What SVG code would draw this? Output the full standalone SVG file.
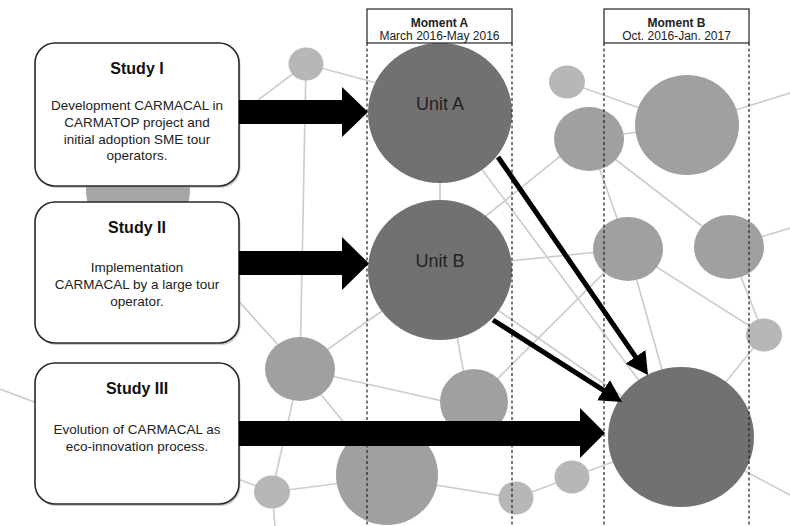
<svg xmlns="http://www.w3.org/2000/svg" width="790" height="526" viewBox="0 0 790 526">
<style>
.edge{stroke:#cdcdcd;stroke-width:1.7;fill:none}
.dark{fill:#717171}
.mid{fill:#a0a0a0}
.light{fill:#b7b7b7}
.dash{stroke:#222;stroke-width:1.2;stroke-dasharray:3,2.5;fill:none}
.box{fill:#fff;stroke:#2a2a2a;stroke-width:1.6}
.shadow{fill:#9a9a9a;opacity:0.5}
.hdr{fill:#fff;stroke:#222;stroke-width:1.2}
.title{font-family:"Liberation Sans",Arial,sans-serif;font-weight:bold;font-size:16px;fill:#111;text-anchor:middle}
.body{font-family:"Liberation Sans",Arial,sans-serif;font-size:13.5px;fill:#222;text-anchor:middle}
.hb{font-family:"Liberation Sans",Arial,sans-serif;font-weight:bold;font-size:12px;fill:#222;text-anchor:middle}
.hn{font-family:"Liberation Sans",Arial,sans-serif;font-size:12px;fill:#222;text-anchor:middle}
.unit{font-family:"Liberation Sans",Arial,sans-serif;font-size:18px;fill:#222;text-anchor:middle}
.block{fill:#000}
.thin{stroke:#000;stroke-width:5;fill:none}
</style>
<defs>
<marker id="head" markerUnits="userSpaceOnUse" markerWidth="24" markerHeight="26" refX="10" refY="12" orient="auto">
<path d="M0,0 L22,12 L0,24 z" fill="#000"/>
</marker>
</defs>
<g id="edges">
<line class="edge" x1="306" y1="64" x2="138" y2="190"/>
<line class="edge" x1="306" y1="64" x2="440" y2="100"/>
<line class="edge" x1="306" y1="64" x2="300" y2="369"/>
<line class="edge" x1="138" y1="190" x2="300" y2="369"/>
<line class="edge" x1="440" y1="113" x2="440" y2="270"/>
<line class="edge" x1="440" y1="113" x2="681" y2="437"/>
<line class="edge" x1="440" y1="270" x2="681" y2="437"/>
<line class="edge" x1="300" y1="369" x2="440" y2="270"/>
<line class="edge" x1="300" y1="369" x2="474" y2="408"/>
<line class="edge" x1="300" y1="369" x2="272" y2="492"/>
<line class="edge" x1="300" y1="369" x2="387" y2="475"/>
<line class="edge" x1="0" y1="389" x2="272" y2="492"/>
<line class="edge" x1="272" y1="492" x2="387" y2="477"/>
<line class="edge" x1="272" y1="492" x2="275" y2="526"/>
<line class="edge" x1="445" y1="270" x2="469" y2="402"/>
<line class="edge" x1="440" y1="268" x2="628" y2="249"/>
<line class="edge" x1="440" y1="253" x2="589" y2="133"/>
<line class="edge" x1="474" y1="402" x2="628" y2="249"/>
<line class="edge" x1="474" y1="402" x2="387" y2="475"/>
<line class="edge" x1="567" y1="82" x2="687" y2="125"/>
<line class="edge" x1="589" y1="139" x2="687" y2="125"/>
<line class="edge" x1="687" y1="125" x2="790" y2="93"/>
<line class="edge" x1="589" y1="139" x2="628" y2="249"/>
<line class="edge" x1="589" y1="139" x2="729" y2="247"/>
<line class="edge" x1="729" y1="247" x2="790" y2="228"/>
<line class="edge" x1="628" y1="249" x2="681" y2="437"/>
<line class="edge" x1="628" y1="249" x2="764" y2="335"/>
<line class="edge" x1="729" y1="247" x2="764" y2="335"/>
<line class="edge" x1="681" y1="437" x2="764" y2="335"/>
<line class="edge" x1="681" y1="437" x2="790" y2="495"/>
<line class="edge" x1="681" y1="437" x2="572" y2="477"/>
<line class="edge" x1="572" y1="477" x2="516" y2="498"/>
<line class="edge" x1="516" y1="498" x2="387" y2="477"/>
</g>
<g id="n-hidden"><circle cx="138" cy="190" r="52" style="fill:#a6a6a6"/></g>
<g id="n-top"><ellipse class="light" cx="306" cy="64" rx="17.5" ry="16.5"/></g>
<g id="n-unitA"><ellipse class="dark" cx="440" cy="113" rx="72" ry="70"/><text class="unit" x="440" y="110">Unit A</text></g>
<g id="n-unitB"><ellipse class="dark" cx="440" cy="270" rx="72" ry="70"/><text class="unit" x="440" y="267">Unit B</text></g>
<g id="n-c5"><ellipse class="light" cx="567" cy="82" rx="18" ry="16.5"/></g>
<g id="n-c1"><ellipse class="mid" cx="589" cy="139" rx="35" ry="32"/></g>
<g id="n-c2"><ellipse class="mid" cx="687" cy="125" rx="52" ry="50"/></g>
<g id="n-c3"><ellipse class="mid" cx="628" cy="249" rx="35" ry="32"/></g>
<g id="n-c4"><ellipse class="mid" cx="729" cy="247" rx="35" ry="32"/></g>
<g id="n-c6"><ellipse class="light" cx="764" cy="335" rx="18" ry="16.5"/></g>
<g id="n-left"><ellipse class="mid" cx="300" cy="369" rx="35" ry="32"/></g>
<g id="n-mid"><ellipse class="mid" cx="474" cy="402" rx="34" ry="33"/></g>
<g id="n-bottom"><ellipse class="mid" cx="387" cy="475" rx="51" ry="50"/></g>
<g id="n-s1"><ellipse class="light" cx="272" cy="492" rx="18" ry="16.5"/></g>
<g id="n-s2"><ellipse class="light" cx="516" cy="498" rx="17.5" ry="16.5"/></g>
<g id="n-s3"><ellipse class="light" cx="572" cy="477" rx="17.5" ry="16.5"/></g>
<g id="n-final"><ellipse class="dark" cx="681" cy="437" rx="73" ry="70"/></g>
<g id="dashes">
<line class="dash" x1="367" y1="43" x2="367" y2="526"/>
<line class="dash" x1="512" y1="43" x2="512" y2="526"/>
<line class="dash" x1="604" y1="43" x2="604" y2="526"/>
<line class="dash" x1="749" y1="43" x2="749" y2="526"/>
</g>
<g id="momentA">
<rect class="hdr" x="367" y="9" width="145" height="34"/>
<text class="hb" x="439.5" y="27">Moment A</text>
<text class="hn" x="439.5" y="40">March 2016-May 2016</text>
</g>
<g id="momentB">
<rect class="hdr" x="604" y="9" width="145" height="34"/>
<text class="hb" x="676.5" y="27">Moment B</text>
<text class="hn" x="676.5" y="40">Oct. 2016-Jan. 2017</text>
</g>
<g id="study1">
<rect class="shadow" x="36.5" y="45" width="204" height="143" rx="20"/>
<rect class="box" x="35" y="43" width="204" height="143" rx="20"/>
<text class="title" x="137" y="74">Study I</text>
<text class="body" x="137" y="109.5">Development CARMACAL in</text>
<text class="body" x="137" y="126.5">CARMATOP project and</text>
<text class="body" x="137" y="143.5">initial adoption SME tour</text>
<text class="body" x="137" y="160">operators.</text>
</g>
<g id="study2">
<rect class="shadow" x="36.5" y="204" width="204" height="141" rx="20"/>
<rect class="box" x="35" y="202" width="204" height="141" rx="20"/>
<text class="title" x="137" y="232.5">Study II</text>
<text class="body" x="137" y="272">Implementation</text>
<text class="body" x="137" y="289">CARMACAL by a large tour</text>
<text class="body" x="137" y="305.5">operator.</text>
</g>
<g id="study3">
<rect class="shadow" x="36.5" y="365" width="204" height="141" rx="20"/>
<rect class="box" x="35" y="363" width="204" height="141" rx="20"/>
<text class="title" x="137" y="394">Study III</text>
<text class="body" x="137" y="434">Evolution of CARMACAL as</text>
<text class="body" x="137" y="450.5">eco-innovation process.</text>
</g>
<g id="connectors">
<polygon class="block" points="239,100 342,100 342,87 368,112 342,137 342,124 239,124"/>
<polygon class="block" points="239,251 342,251 342,237 369,263.5 342,290 342,275 239,275"/>
<polygon class="block" points="239,421 580,421 580,408 605,433 580,458 580,446 239,446"/>
<line class="thin" x1="498" y1="157" x2="641.2" y2="365.1" marker-end="url(#head)"/>
<line class="thin" x1="493" y1="320" x2="611.9" y2="395.6" marker-end="url(#head)"/>
</g>
</svg>
